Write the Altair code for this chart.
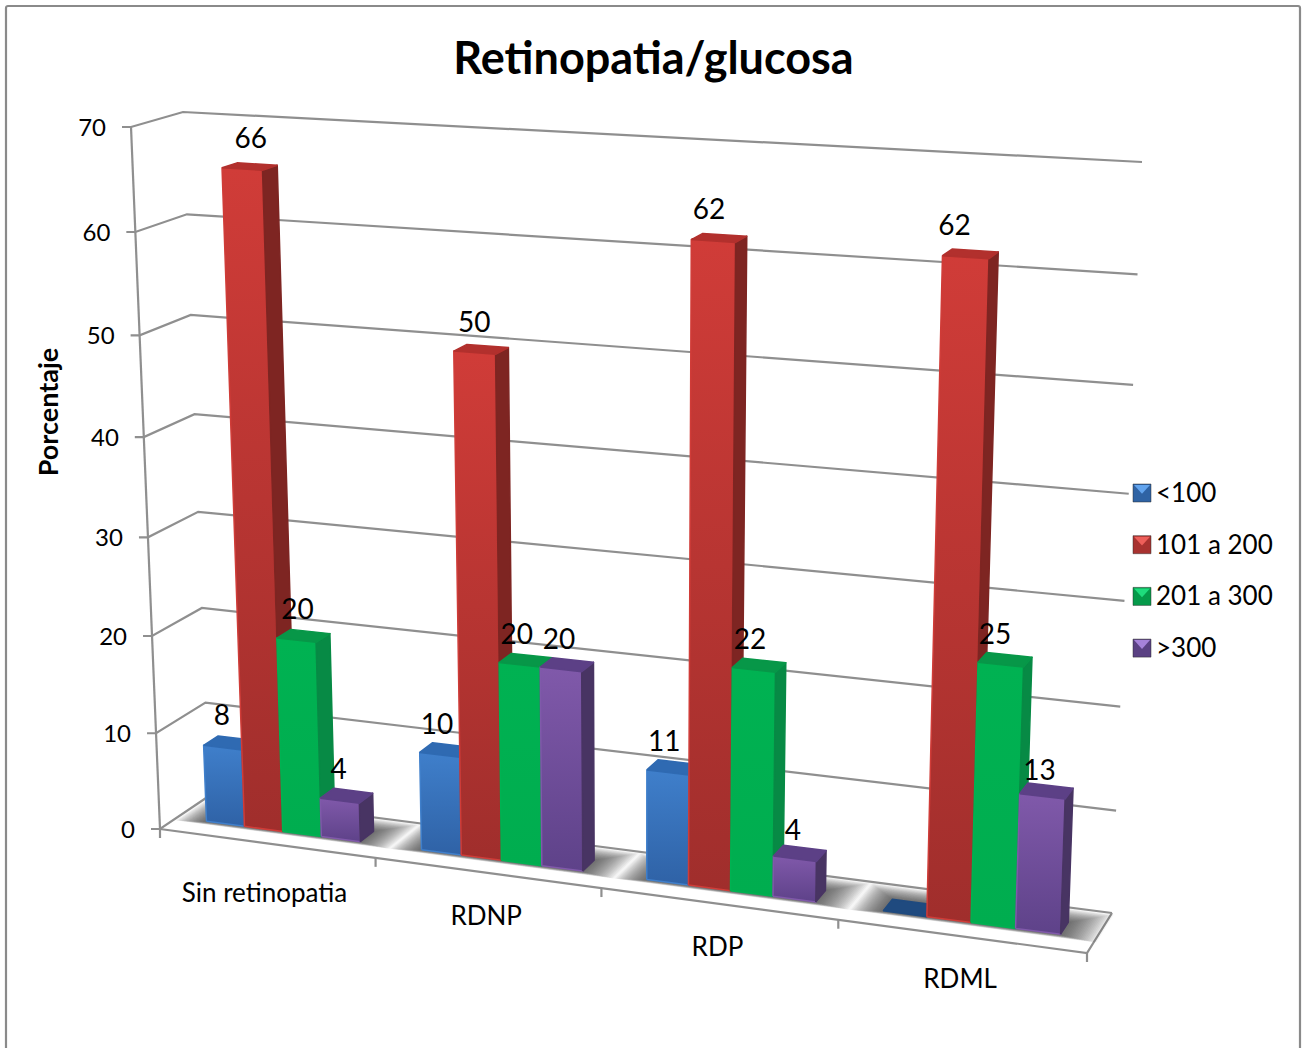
import altair as alt
import pandas as pd

# Chart content
categories = ["Sin retinopatia", "RDNP", "RDP", "RDML"]
series = ["<100", "101 a 200", "201 a 300", ">300"]
under_100 = [8, 10, 11, 0]
from_101_to_200 = [66, 50, 62, 62]
from_201_to_300 = [20, 20, 22, 25]
over_300 = [4, 20, 4, 13]
ticks = [0, 10, 20, 30, 40, 50, 60, 70]

series_values = [under_100, from_101_to_200, from_201_to_300, over_300]

# Hand placement of the value labels, per series then category (pixels)
label_shift_x = [[-9, -10, -10, 0], [0, -8, -11, -17], [-7, -10, -10, -11], [-9, -9, -8, -8]]
label_shift_y = [[-2, 0, 0, 0], [-3, -1, -3, -3], [-1, 0, 0, 0], [-1, 0, 3, 5]]

# Face colours per series: front gradient stops, side, top, legend base, legend highlight
front_stops = [("#3f7fcb", "#2f62a6"), ("#d03c38", "#a02e2c"), ("#00b252", "#00ad4f"), ("#8059aa", "#5e4289")]
side_colors = ["#2a5a98", "#7e2522", "#078a45", "#483463"]
top_colors = ["#2f6ab2", "#b2302d", "#079748", "#5c4086"]
legend_base = ["#2f63a4", "#a83230", "#059a4a", "#5a4183"]
legend_light = ["#62a4ee", "#ee5f5a", "#1edc7c", "#a682da"]
flat_color = "#1f4a7f"

# The plot box as a projected cube, corners in page pixels
# A,B: floor front left/right; D,C: floor back left/right; E,F,H,G: same corners at the top value
BOX = dict(Ax=160, Ay=829, Bx=1087, By=953, Dx=209, Dy=796, Cx=1112, Cy=913,
           Ex=131, Ey=127, Fx=1114, Fy=183, Hx=183, Hy=112, Gx=1142, Gy=162)
MAX_VALUE = 70
PERSPECTIVE_U = 0.1
PERSPECTIVE_V = 0.055
BAR_START, BAR_WIDTH = 0.14, 0.18
DEPTH_FRONT, DEPTH_BACK = 0.35, 0.65


def axis_expr(c):
    b = BOX
    bottom = (f"((1-datum.w)*((1-datum.U)*{b['A'+c]}+datum.U*{b['B'+c]})"
              f"+datum.w*((1-datum.U)*{b['D'+c]}+datum.U*{b['C'+c]}))")
    top = (f"((1-datum.w)*((1-datum.U)*{b['E'+c]}+datum.U*{b['F'+c]})"
           f"+datum.w*((1-datum.U)*{b['H'+c]}+datum.U*{b['G'+c]}))")
    return f"(1-datum.T)*{bottom}+datum.T*{top}+datum.o{c}"


def project(chart):
    """Map category position u, depth w and value v to page pixels."""
    return chart.transform_calculate(
        U=f"datum.u/(1+{PERSPECTIVE_U}*(1-datum.u))",
        T=f"(datum.v/{MAX_VALUE})/(1+{PERSPECTIVE_V}*(1-datum.v/{MAX_VALUE}))",
    ).transform_calculate(px=axis_expr("x"), py=axis_expr("y"))


X_SCALE = alt.Scale(domain=[0, 1307], nice=False, zero=False)
Y_SCALE = alt.Scale(domain=[1048, 0], nice=False, zero=False)
X = alt.X("px:Q", scale=X_SCALE, axis=None)
Y = alt.Y("py:Q", scale=Y_SCALE, axis=None)

FACE_CORNERS = {
    "front": [(0, 0, 0), (1, 0, 0), (1, 0, 1), (0, 0, 1), (0, 0, 0)],
    "side": [(1, 0, 0), (1, 1, 0), (1, 1, 1), (1, 0, 1), (1, 0, 0)],
    "top": [(0, 0, 1), (1, 0, 1), (1, 1, 1), (0, 1, 1), (0, 0, 1)],
    "flat": [(0, 0, 0), (1, 0, 0), (1, 1, 0), (0, 1, 0), (0, 0, 0)],
}

face_rows = []
for s, values in enumerate(series_values):
    for c, value in enumerate(values):
        faces = ["flat"] if value == 0 else ["front", "side", "top"]
        for face in faces:
            for k, (a, b, lift) in enumerate(FACE_CORNERS[face]):
                face_rows.append({"cat": c, "ser": s, "val": value, "face": face, "k": k,
                                  "a": a, "b": b, "c": lift, "ox": 0, "oy": 0})
faces_df = pd.DataFrame(face_rows)

label_rows = [{"cat": c, "ser": s, "val": v, "ox": label_shift_x[s][c], "oy": label_shift_y[s][c]}
              for s, values in enumerate(series_values) for c, v in enumerate(values) if v > 0]
labels_df = pd.DataFrame(label_rows)

# Wall grid, axis lines and tick marks as polylines in (u, w, v)
line_rows = []


def add_line(name, points):
    for k, (u, w, v, ox, oy) in enumerate(points):
        line_rows.append({"name": name, "k": k, "u": u, "w": w, "v": v, "ox": ox, "oy": oy})


for t in ticks:
    add_line(f"grid{t}", [(0, 0, t, -9, 0), (0, 0, t, 0, 0), (0, 1, t, 0, 0), (1, 1, t, 0, 0)])
add_line("axis", [(0, 0, 0, 0, 0), (0, 0, MAX_VALUE, 0, 0)])
add_line("floor", [(0, 0, 0, 0, 0), (1, 0, 0, 0, 0), (1, 1, 0, 0, 0)])
for c in range(len(categories) + 1):
    add_line(f"tick{c}", [(c / len(categories), 0, 0, 0, 0), (c / len(categories), 0, 0, 0, 9)])
lines_df = pd.DataFrame(line_rows)

# Soft floor shadow, stacked from wide and faint to narrow
shadow_rows = []
SHADOW_STEPS = 22
for c in range(len(categories)):
    for step in range(SHADOW_STEPS):
        f = step / (SHADOW_STEPS - 1)
        left = c + 0.13 - 0.12 * (1 - f)
        right = c + 0.87 + 0.14 * (1 - f)
        near = DEPTH_FRONT - 0.02 - 0.06 * (1 - f)
        far = DEPTH_BACK + 0.02 + 0.30 * (1 - f)
        corners = [(left, near), (right, near), (right, far), (left, far), (left, near)]
        for k, (cu, w) in enumerate(corners):
            shadow_rows.append({"id": f"{c}-{step}", "k": k, "u": cu / len(categories), "w": w,
                                "v": 0, "ox": 0, "oy": 0})
shadows_df = pd.DataFrame(shadow_rows)

layers = []

# Outer frame, open at the page bottom
frame_df = pd.DataFrame({"x0": [6], "x1": [1300], "y0": [6], "y1": [1070]})
layers.append(
    alt.Chart(frame_df).mark_rect(fillOpacity=0, stroke="#8a8a8a", strokeWidth=2.2, cornerRadius=2).encode(
        x=alt.X("x0:Q", scale=X_SCALE, axis=None), x2="x1:Q",
        y=alt.Y("y0:Q", scale=Y_SCALE, axis=None), y2="y1:Q")
)

layers.append(
    project(alt.Chart(lines_df)).mark_line(color="#8f8f8f", strokeWidth=2.2, strokeJoin="miter").encode(
        x=X, y=Y, detail="name:N", order="k:Q")
)

layers.append(
    project(alt.Chart(shadows_df)).mark_line(fill="#3a3a3a", fillOpacity=0.05, strokeOpacity=0).encode(
        x=X, y=Y, detail="id:N", order="k:Q")
)


def bar_geometry(chart):
    return chart.transform_calculate(
        u=f"(datum.cat+{BAR_START}+{BAR_WIDTH}*(datum.ser+datum.a))/{len(categories)}",
        w=f"{DEPTH_FRONT}+{DEPTH_BACK - DEPTH_FRONT}*datum.b",
        v="datum.val*datum.c",
    )


for s in range(len(series)):
    for face in ["flat", "front", "side", "top"]:
        if face == "flat" and 0 not in series_values[s]:
            continue
        if face == "front":
            paint = alt.LinearGradient(
                gradient="linear", x1=0, y1=0, x2=0, y2=1,
                stops=[alt.GradientStop(color=front_stops[s][0], offset=0),
                       alt.GradientStop(color=front_stops[s][1], offset=1)])
            edge = front_stops[s][0]
        elif face == "side":
            paint = edge = side_colors[s]
        elif face == "top":
            paint = edge = top_colors[s]
        else:
            paint = edge = flat_color
        base = alt.Chart(faces_df).transform_filter(
            f"datum.ser=={s} && datum.face=='{face}'")
        layers.append(
            project(bar_geometry(base)).mark_line(
                fill=paint, stroke=edge, strokeWidth=1.5, strokeJoin="round"
            ).encode(x=X, y=Y, detail="cat:N", order="k:Q")
        )

# Value labels above each bar
layers.append(
    project(alt.Chart(labels_df).transform_calculate(
        u=f"(datum.cat+{BAR_START}+{BAR_WIDTH}*(datum.ser+0.5))/{len(categories)}",
        w="0.5", v="datum.val")
    ).mark_text(font="Lato", fontSize=28, color="black", dy=-24, dx=1).encode(
        x=X, y=Y, text="val:Q")
)

# Value axis labels, right aligned beside the ticks
layers.append(
    project(alt.Chart(pd.DataFrame({"t": ticks, "ox": 0, "oy": 0})).transform_calculate(
        u="0", w="0", v="datum.t")
    ).mark_text(font="Lato", fontSize=24, color="black", align="right", dx=-25, dy=2).encode(
        x=X, y=Y, text="t:Q")
)

# Category labels below the floor
layers.append(
    project(alt.Chart(pd.DataFrame({"name": categories, "i": range(len(categories)), "ox": 0, "oy": 0})).transform_calculate(
        u=f"(datum.i+0.5)/{len(categories)}", w="0", v="0")
    ).transform_calculate(dropped="datum.py+(datum.i==0?51:44)", shifted="datum.px-(datum.i==0?2:1)").mark_text(
        font="Lato", fontSize=26, color="black").encode(
        x=alt.X("shifted:Q", scale=X_SCALE, axis=None),
        y=alt.Y("dropped:Q", scale=Y_SCALE, axis=None), text="name:N")
)

# Value axis title
layers.append(
    alt.Chart(pd.DataFrame({"x": [50], "y": [412], "label": ["Porcentaje"]})).mark_text(
        font="Lato", fontSize=27, fontWeight="bold", color="black", angle=270).encode(
        x=alt.X("x:Q", scale=X_SCALE, axis=None), y=alt.Y("y:Q", scale=Y_SCALE, axis=None), text="label:N")
)

# Legend entries: the legend sets the labels, the bevelled swatches are drawn underneath it
legend_df = pd.DataFrame({"series": series, "i": range(len(series))})
layers.append(
    alt.Chart(legend_df).mark_point(filled=True, shape="square", opacity=0).encode(
        x=alt.value(-50), y=alt.value(-50),
        color=alt.Color("series:N", sort=series,
                        scale=alt.Scale(domain=series, range=legend_base),
                        legend=alt.Legend(title=None, orient="none", legendX=1129, legendY=481, padding=0,
                                          symbolType="square", symbolSize=324, symbolOpacity=0,
                                          symbolStrokeWidth=0,
                                          labelFont="Lato", labelFontSize=26, labelColor="black",
                                          labelOffset=1, rowPadding=25.7, labelLimit=200)))
)
swatches = pd.DataFrame({"i": range(len(series)), "base": legend_base, "shade": legend_light})
swatch_base = alt.Chart(swatches).transform_calculate(x="1142", y="493+51.7*datum.i")
swatch_x = alt.X("x:Q", scale=X_SCALE, axis=None)
swatch_y = alt.Y("y:Q", scale=Y_SCALE, axis=None)
layers.append(
    swatch_base.mark_point(filled=True, shape="square", size=324, opacity=1,
                           stroke="#2b2b2b", strokeWidth=0.8, strokeOpacity=0.6).encode(
        x=swatch_x, y=swatch_y, fill=alt.Fill("base:N", scale=None, legend=None))
)
layers.append(
    swatch_base.mark_point(filled=True, shape="M-1,-1L1,-1L0,0.1Z", size=256, opacity=1).encode(
        x=swatch_x, y=swatch_y, fill=alt.Fill("shade:N", scale=None, legend=None))
)

chart = alt.layer(*layers).properties(
    width=1307, height=1048, padding=0, autosize=alt.AutoSizeParams(type="none"),
    title=alt.TitleParams("Retinopatia/glucosa", font="Lato", fontSize=45, fontWeight="bold",
                          color="black", anchor="middle", dy=140),
).configure_view(stroke=None).resolve_scale(color="independent", fill="independent")

chart.save("out.html", embed_options={"renderer": "svg", "actions": False})
